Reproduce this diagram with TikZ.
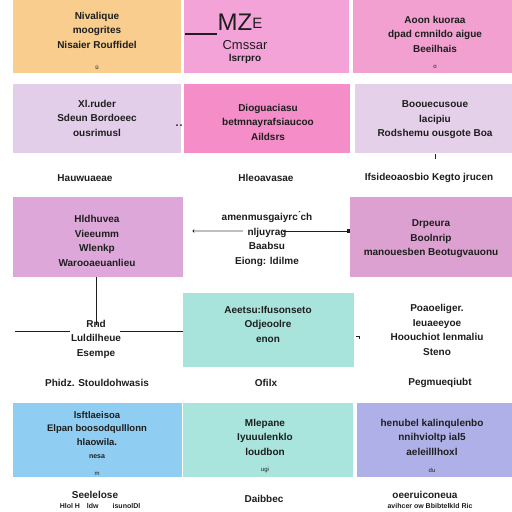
\documentclass[tikz,border=0pt]{standalone}
\usepackage{fontspec}
\setmainfont{Liberation Sans}
\usetikzlibrary{arrows.meta}
\definecolor{cA}{HTML}{F8CD8E}
\definecolor{cB}{HTML}{F4A3D8}
\definecolor{cC}{HTML}{F2A0D0}
\definecolor{cD}{HTML}{E2CEE9}
\definecolor{cE}{HTML}{F48DC8}
\definecolor{cF}{HTML}{E5D0EA}
\definecolor{cG}{HTML}{DDA8D9}
\definecolor{cH}{HTML}{DCA1D0}
\definecolor{cI}{HTML}{A8E4DC}
\definecolor{cJ}{HTML}{8FCDF2}
\definecolor{cK}{HTML}{A9E5DC}
\definecolor{cL}{HTML}{B0B0E8}
\definecolor{ink}{HTML}{1E1E1E}
\tikzset{
  box/.style={draw=none,anchor=north west,inner sep=0pt},
  txt/.style={text=ink,font=\fontsize{10}{14.5}\selectfont\bfseries,align=center,inner sep=0pt},
  lbl/.style={text=ink,font=\fontsize{10}{14.5}\selectfont\bfseries,inner sep=0pt},
  conn/.style={draw=ink,line width=0.8pt},
  faint/.style={draw=gray!50,line width=1.2pt}
}
\begin{document}
\begin{tikzpicture}[x=1pt,y=-1pt]
\useasboundingbox (0,0) rectangle (512,512);
\fill[white] (0,0) rectangle (512,512);
% row 1
\fill[cA] (13,0) rectangle (181,73);
\fill[cB] (184,0) rectangle (349,73);
\fill[cC] (353,0) rectangle (512,73);
\node[box,minimum width=168pt,minimum height=73pt] (A) at (13,0) {};
\node[box,minimum width=165pt,minimum height=73pt] (B) at (184,0) {};
\node[box,minimum width=159pt,minimum height=73pt] (C) at (353,0) {};
\node[txt] (At) at (97,30) {Nivalique\\moogrites\\Nisaier Rouffidel};
\node[txt,font=\fontsize{6}{6}\selectfont] (Am) at (97,67) {ü};
\node[txt,font=\fontsize{24}{24}\selectfont] (Bt) at (240,22) {MZ\raisebox{2pt}{\fontsize{15}{15}\selectfont E}};
\node[txt,font=\fontsize{13}{13}\selectfont] (Bt2) at (245,45) {Cmssar};
\node[txt] (Bt3) at (245,59) {lsrrpro};
\node[txt] (Ct) at (435,34) {Aoon kuoraa\\dpad cmnildo aigue\\Beeilhais};
\node[txt,font=\fontsize{6}{6}\selectfont] (Cm) at (435,67) {o};
\draw[conn,line width=1.2pt] (185,34) -- (Bt.west |- 185,34);
% row 2
\fill[cD] (13,84) rectangle (181,153);
\fill[cE] (184,84) rectangle (350,153);
\fill[cF] (355,84) rectangle (512,153);
\node[box,minimum width=168pt,minimum height=69pt] (D) at (13,84) {};
\node[box,minimum width=166pt,minimum height=69pt] (E) at (184,84) {};
\node[box,minimum width=157pt,minimum height=69pt] (F) at (355,84) {};
\node[txt] (Dt) at (97,118) {Xl.ruder\\Sdeun Bordoeec\\ousrimusl};
\node[txt] (Et) at (268,122) {Dioguaciasu\\betmnayrafsiaucoo\\Aildsrs};
\node[txt] (Ft) at (435,120) {Boouecusoue\\lacipiu\\Rodshemu ousgote Boa};
\fill[ink] (177,125) circle (1pt) (181,125) circle (1pt);
\draw[conn] (435,154) -- (435,159);
% row 3 labels
\node[lbl] (L1) at (85,178) {Hauwuaeae};
\node[lbl] (L2) at (266,178) {Hleoavasae};
\node[lbl] (L3) at (429,178) {Ifsideoaosbio Kegto jrucen};
% row 4
\fill[cG] (13,197) rectangle (183,277);
\fill[cH] (350,197) rectangle (512,277);
\node[box,minimum width=170pt,minimum height=80pt] (G) at (13,197) {};
\node[box,minimum width=162pt,minimum height=80pt] (H) at (350,197) {};
\node[txt] (Gt) at (97,241) {Hldhuvea\\Vieeumm\\Wlenkp\\Warooaeuanlieu};
\node[txt] (Ht) at (431,239) {Drpeura\\Boolnrip\\manouesben Beotugvauonu};
\node[txt] (Mt) at (267,239) {amenmusgaiyrc\'{}ch\\nljuyrag\\Baabsu\\Eiong: ldilme};
\coordinate (gdot) at (194,231);
\fill[ink] (gdot) circle (1.6pt);
\draw[faint] (gdot) -- (243,231);
\draw[conn,-{Square[length=3.5pt,width=4pt]}] (283,231) -- (H.west |- 283,231);
% vertical and horizontal connectors on the left
\coordinate (hl) at (15,331);
\draw[conn] (96,277) -- (96,325);
\draw[conn] (hl) -- (70,331);
\draw[conn] (120,331) -- (183,331);
% row 5
\fill[cI] (183,293) rectangle (354,367);
\node[box,minimum width=171pt,minimum height=74pt] (I) at (183,293) {};
\node[txt] (It) at (268,324) {Aeetsu:Ifusonseto\\Odjeoolre\\enon};
\node[txt] (Lt) at (96,339) {Rnd\\Luldilheue\\Esempe};
\node[txt] (Rt) at (437,330) {Poaoeliger.\\Ieuaeeyoe\\Hoouchiot lenmaliu\\Steno};
\draw[conn,line width=0.5pt] (356,336) -- (359,336) -- (359,339);
% row 6 labels
\node[lbl] (M1) at (97,383) {Phidz. Stouldohwasis};
\node[lbl] (M2) at (266,383) {Ofilx};
\node[lbl] (M3) at (440,383) {Pegmueqiubt};
% row 7
\fill[cJ] (13,403) rectangle (182,477);
\fill[cK] (183,403) rectangle (353,477);
\fill[cL] (357,403) rectangle (512,477);
\node[box,minimum width=169pt,minimum height=74pt] (J) at (13,403) {};
\node[box,minimum width=170pt,minimum height=74pt] (K) at (183,403) {};
\node[box,minimum width=155pt,minimum height=74pt] (L) at (357,403) {};
\node[txt,font=\fontsize{9.5}{13.5}\selectfont\bfseries] (Jt) at (97,435) {lsftlaeisoa\\Elpan boosodqulllonn\\hlaowila.\\{\fontsize{7}{7}\selectfont nesa}};
\node[txt,font=\fontsize{6}{6}\selectfont] (Jm) at (97,474) {m};
\node[txt] (Kt) at (265,437) {Mlepane\\Iyuuulenklo\\loudbon};
\node[txt,font=\fontsize{6}{6}\selectfont] (Km) at (265,470) {ugi};
\node[txt] (Lt2) at (432,437) {henubel kalinqulenbo\\nnihvioltp ial5\\aeleilllhoxl};
\node[txt,font=\fontsize{6}{6}\selectfont] (Lm) at (432,470) {du};
% bottom texts
\node[lbl] (B1) at (95,495) {Seelelose};
\node[lbl,font=\fontsize{7}{7}\selectfont\bfseries] (B1b) at (100,506) {Hlol H\quad ldw\qquad isunolDl};
\node[lbl] (B2) at (264,499) {Daibbec};
\node[lbl] (B3) at (425,495) {oeeruiconeua};
\node[lbl,font=\fontsize{7}{7}\selectfont\bfseries] (B3b) at (430,506) {avihcer ow Bbibtelkld Ric};
\end{tikzpicture}
\end{document}
